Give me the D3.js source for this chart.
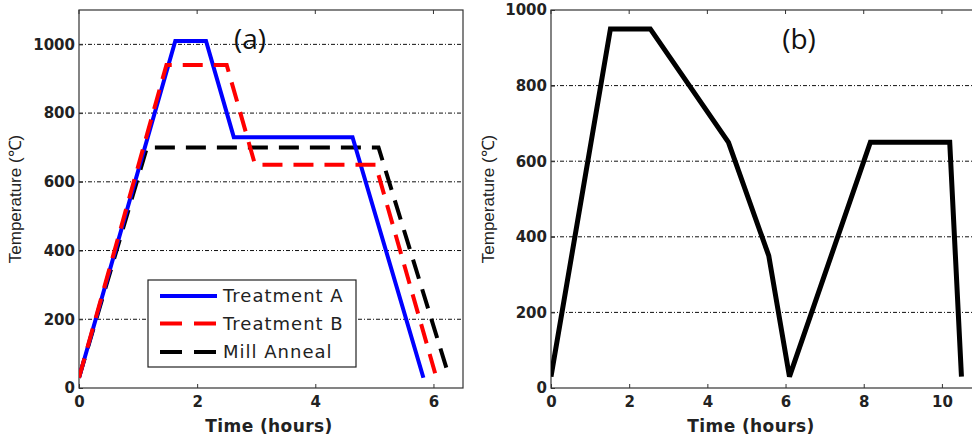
<!DOCTYPE html>
<html>
<head>
<meta charset="utf-8">
<script src="https://cdn.jsdelivr.net/npm/d3@7"></script>
<style>
  body { margin: 0; background: #fff; }
  svg { display: block; }
  .tick text { font-family: "DejaVu Sans", sans-serif; font-weight: bold; fill: #222; }
</style>
</head>
<body>
<svg id="main" width="972" height="438"></svg>
<script>
// panel (a) series: [hours, temperature]
var treatmentA = [[0, 30], [1.63, 1010], [2.15, 1010], [2.62, 730], [4.63, 730], [5.83, 30]]
var treatmentB = [[0, 30], [1.48, 940], [2.5, 940], [2.98, 650], [5.02, 650], [6.05, 30]]
var millAnneal = [[0, 30], [1.15, 700], [5.07, 700], [6.27, 30]]
// panel (b) series
var cycleB = [[0, 30], [1.52, 950], [2.54, 950], [4.54, 650], [5.57, 350], [6.1, 30], [8.17, 650], [10.2, 650], [10.5, 30]]

var xTicksA = [0, 2, 4, 6]
var yTicksA = [0, 200, 400, 600, 800, 1000]
var xTicksB = [0, 2, 4, 6, 8, 10]
var yTicksB = [0, 200, 400, 600, 800, 1000]

var legendNames = ["Treatment A", "Treatment B", "Mill Anneal"]
var legendColors = ["#0000ff", "#ff0000", "#000000"]
var legendDash = [null, "20,11", "20,11"]

var svg = d3.select("#main")

function panel(opt) {
    var g = svg.append("g")
    var x = d3.scaleLinear().domain(opt.xDomain).range([opt.left, opt.left + opt.width])
    var y = d3.scaleLinear().domain(opt.yDomain).range([opt.bottom, opt.top])

    // clip so lines stay inside the box
    var clipId = "clip-" + opt.name
    svg.append("clipPath").attr("id", clipId)
        .append("rect")
        .attr("x", opt.left).attr("y", opt.top)
        .attr("width", opt.width).attr("height", opt.bottom - opt.top)

    // grid lines, dash-dot
    g.append("g").selectAll("line")
        .data(opt.grid)
        .join("line")
        .attr("x1", opt.left).attr("x2", opt.left + opt.width)
        .attr("y1", d => y(d)).attr("y2", d => y(d))
        .attr("stroke", "#111")
        .attr("stroke-width", 1)
        .attr("stroke-dasharray", "4,2,1,2")

    // axes, ticks point inward
    var xAxis = d3.axisBottom(x).tickValues(opt.xTicks).tickFormat(d3.format("d")).tickSize(-4).tickPadding(8)
    var yAxis = d3.axisLeft(y).tickValues(opt.yTicks).tickFormat(d3.format("d")).tickSize(-4).tickPadding(4)

    var gx = g.append("g").attr("transform", "translate(0," + opt.bottom + ")").call(xAxis)
    gx.select(".domain").remove()
    gx.selectAll("text").attr("font-size", 15).attr("dy", "0.75em")
    gx.selectAll("line").attr("stroke", "#333")

    var gy = g.append("g").attr("transform", "translate(" + opt.left + ",0)").call(yAxis)
    gy.select(".domain").remove()
    gy.selectAll("text").attr("font-size", 15)
    gy.selectAll("line").attr("stroke", "#333")

    // top ticks
    g.append("g").selectAll("line")
        .data(opt.xTicks)
        .join("line")
        .attr("x1", d => x(d)).attr("x2", d => x(d))
        .attr("y1", opt.top).attr("y2", opt.top + 4)
        .attr("stroke", "#333")

    // frame
    g.append("rect")
        .attr("x", opt.left).attr("y", opt.top)
        .attr("width", opt.width).attr("height", opt.bottom - opt.top)
        .attr("fill", "none")
        .attr("stroke", "#333")
        .attr("stroke-width", 1.2)

    // labels
    g.append("text")
        .attr("x", opt.left + opt.xLabelDx).attr("y", 432)
        .attr("text-anchor", "middle")
        .attr("font-family", "DejaVu Sans, sans-serif")
        .attr("font-weight", "bold")
        .attr("font-size", 17)
        .attr("letter-spacing", 0.4)
        .attr("fill", "#222")
        .text("Time (hours)")

    g.append("text")
        .attr("transform", "translate(" + opt.yLabelX + ",199) rotate(-90)")
        .attr("text-anchor", "middle")
        .attr("font-family", "Liberation Sans, sans-serif")
        .attr("font-size", 17)
        .attr("fill", "#222")
        .text("Temperature (℃)")

    g.append("text")
        .attr("x", opt.titleX).attr("y", 49)
        .attr("text-anchor", "middle")
        .attr("font-family", "Open Sans, sans-serif")
        .attr("font-size", 28)
        .attr("fill", "#111")
        .text(opt.title)

    var line = d3.line().x(d => x(d[0])).y(d => y(d[1]))
    var lines = g.append("g").attr("clip-path", "url(#" + clipId + ")")
    return {x: x, y: y, line: line, g: g, lines: lines}
}

// ---- panel (a)
var pa = panel({
    name: "a", left: 79, width: 384, top: 10, bottom: 388,
    xDomain: [0, 6.5], yDomain: [0, 1100],
    xTicks: xTicksA, yTicks: yTicksA, grid: [200, 400, 600, 800, 1000],
    xLabelDx: 190, yLabelX: 21, titleX: 250, title: "(a)"
})

var seriesA = [treatmentA, treatmentB, millAnneal]
// mill anneal first, then A, then B on top
pa.lines.selectAll("path")
    .data([2, 0, 1])
    .join("path")
    .attr("d", i => pa.line(seriesA[i]))
    .attr("fill", "none")
    .attr("stroke", i => legendColors[i])
    .attr("stroke-width", 4)
    .attr("stroke-dasharray", i => legendDash[i])
    .attr("stroke-linejoin", "miter")

// legend
var lg = pa.g.append("g")
lg.append("rect")
    .attr("x", 148).attr("y", 280)
    .attr("width", 208).attr("height", 87)
    .attr("fill", "#fff")
    .attr("stroke", "#222")
    .attr("stroke-width", 1.2)
var rows = lg.selectAll("g.row")
    .data(legendNames)
    .join("g")
    .attr("class", "row")
    .attr("transform", (d, i) => "translate(0," + [296, 323.5, 352][i] + ")")
rows.append("line")
    .attr("x1", 160).attr("x2", 217)
    .attr("stroke", (d, i) => legendColors[i])
    .attr("stroke-width", 4)
    .attr("stroke-dasharray", (d, i) => legendDash[i] ? "22,12" : null)
rows.append("text")
    .attr("x", 223).attr("dy", "0.36em")
    .attr("font-family", "DejaVu Sans, sans-serif")
    .attr("font-size", 18)
    .attr("letter-spacing", 1)
    .attr("fill", "#222")
    .text(d => d)

// ---- panel (b)
var pb = panel({
    name: "b", left: 551, width: 430, top: 10, bottom: 388,
    xDomain: [0, 11], yDomain: [0, 1000],
    xTicks: xTicksB, yTicks: yTicksB, grid: [200, 400, 600, 800],
    xLabelDx: 200, yLabelX: 494, titleX: 799, title: "(b)"
})

pb.lines.append("path")
    .attr("d", pb.line(cycleB))
    .attr("fill", "none")
    .attr("stroke", "#000")
    .attr("stroke-width", 5)
    .attr("stroke-linejoin", "miter")
</script>
</body>
</html>
